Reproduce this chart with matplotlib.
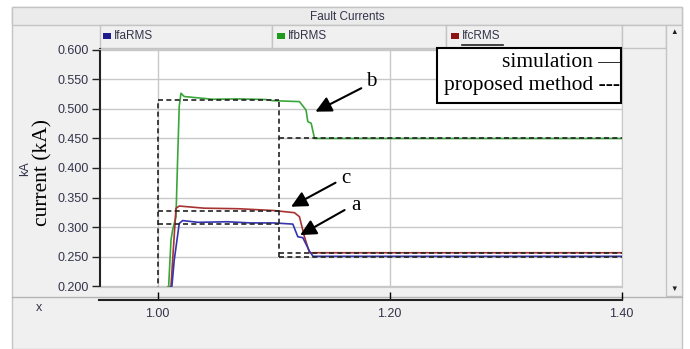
import matplotlib.pyplot as plt
from matplotlib.patches import Rectangle
from matplotlib.lines import Line2D

# --- simulated RMS currents (kA) ---
t_a = [0.95, 1.0124, 1.0144, 1.0187, 1.0216, 1.035, 1.06, 1.08, 1.10, 1.1166,
       1.1209, 1.1252, 1.1310, 1.1340, 1.20, 1.40]
i_a = [0.10, 0.200, 0.244, 0.306, 0.311, 0.308, 0.309, 0.307, 0.307, 0.305,
       0.2836, 0.282, 0.259, 0.2505, 0.2505, 0.2505]

t_b = [0.95, 1.0096, 1.0116, 1.0130, 1.0159, 1.0173, 1.0187, 1.0202, 1.0230,
       1.0475, 1.07, 1.093, 1.0995, 1.1223, 1.1280, 1.1295, 1.1324, 1.1353,
       1.20, 1.40]
i_b = [0.10, 0.200, 0.278, 0.295, 0.3175, 0.4135, 0.504, 0.5266, 0.521,
       0.5164, 0.517, 0.516, 0.514, 0.5124, 0.498, 0.4785, 0.4758, 0.450,
       0.450, 0.450]

t_c = [0.95, 1.0116, 1.0159, 1.0187, 1.04, 1.07, 1.10, 1.1180, 1.1223,
       1.1266, 1.1310, 1.1340, 1.20, 1.40]
i_c = [0.10, 0.200, 0.3317, 0.3356, 0.332, 0.331, 0.328, 0.3243, 0.3175,
       0.2836, 0.2564, 0.2565, 0.2565, 0.2565]

# --- proposed method (fault / post-breaker levels) ---
t_fault = 1.00
t_switch = 1.105
prop_fault = {'a': 0.305, 'b': 0.515, 'c': 0.327}
prop_post = {'a': 0.249, 'b': 0.450, 'c': 0.2555}

y_ticks = [0.200, 0.250, 0.300, 0.350, 0.400, 0.450, 0.500, 0.550, 0.600]
x_ticks = [1.00, 1.20, 1.40]

W, H = 690, 349
def fx(px): return px / W
def fy(py): return 1 - py / H

plt.rcParams['font.family'] = ['Liberation Sans', 'DejaVu Sans']
fig = plt.figure(figsize=(6.9, 3.49), dpi=100)
fig.patch.set_facecolor('white')

grey_bg = '#f0f0f0'
edge = '#c4c4c4'
txt = '#33334a'
serif = 'Liberation Serif'

def box(x0, y0, x1, y1, fc=grey_bg, ec=edge, lw=1, z=-5):
    fig.add_artist(Rectangle((fx(x0), fy(y1)), fx(x1) - fx(x0), fy(y0) - fy(y1),
                             transform=fig.transFigure, facecolor=fc,
                             edgecolor=ec, lw=lw, zorder=z))

# panel background, title bar, legend strip, scrollbar
box(11.5, 7, 682, 349)
box(11.5, 7, 682, 25, fc='#ebebeb')
fig.text(fx(347), fy(16.5), 'Fault Currents', ha='center', va='center',
         fontsize=8.5, color=txt)
for x0, x1 in [(100, 272), (272, 446), (446, 621.7), (621.7, 666)]:
    box(x0, 25, x1, 48)
for x0, name, col in [(103, 'IfaRMS', '#1c1c8c'), (277, 'IfbRMS', '#1e9a1e'),
                      (451, 'IfcRMS', '#8c1414')]:
    box(x0, 33, x0 + 8, 39, fc=col, ec='none', lw=0, z=-4)
    fig.text(fx(x0 + 11), fy(36), name, ha='left', va='center', fontsize=8.5,
             color=txt)
fig.add_artist(Line2D([fx(462), fx(503)], [fy(45), fy(45)],
                      transform=fig.transFigure, color='#222222', lw=1.2))
box(666, 25, 682, 296)
fig.text(fx(674), fy(33), '\u25b2', ha='center', va='center', fontsize=5.5,
         color='#222222')
fig.text(fx(674), fy(289), '\u25bc', ha='center', va='center', fontsize=5.5,
         color='#222222')
fig.add_artist(Line2D([fx(11.5), fx(682)], [fy(296.5), fy(296.5)],
                      transform=fig.transFigure, color='#b4b4b4', lw=1,
                      zorder=-4))

# --- main plot ---
ax = fig.add_axes([fx(99.5), fy(287), fx(621.7) - fx(99.5), fy(49) - fy(287)])
ax.set_facecolor('white')
ax.set_xlim(0.95, 1.40)
ax.set_ylim(0.1985, 0.6015)
ax.set_yticks(y_ticks)
ax.set_yticklabels([f'{v:.3f}' for v in y_ticks])
ax.set_xticks(x_ticks)
ax.tick_params(axis='x', length=0, labelbottom=False)
ax.tick_params(axis='y', direction='out', length=6, width=1, colors='#222222',
               labelsize=9, labelcolor=txt, pad=2)
ax.grid(True, color='#c8c8c8', lw=1)
ax.set_axisbelow(True)
for s in ['top', 'right', 'bottom']:
    ax.spines[s].set_color('#c8c8c8')
ax.spines['left'].set_color('#222222')
ax.spines['left'].set_linewidth(1.5)

dash = dict(color='#222222', lw=1.2, ls=(0, (3, 2)))
ax.plot(t_b, i_b, color='#3aa63a', lw=1.2)
ax.plot(t_c, i_c, color='#a83232', lw=1.2)
ax.plot(t_a, i_a, color='#3434b0', lw=1.2)
for k in ['a', 'b', 'c']:
    ax.plot([t_fault, t_switch], [prop_fault[k], prop_fault[k]], **dash)
    ax.plot([t_switch, 1.40], [prop_post[k], prop_post[k]], **dash)
ax.plot([t_fault, t_fault], [0.0, prop_fault['b']], **dash)
ax.plot([t_switch, t_switch], [prop_post['a'], prop_fault['b']], **dash)

arrow = dict(arrowstyle='-|>', color='black', lw=1.5, mutation_scale=24,
             shrinkA=0, shrinkB=0)
for lab, tip, tail, pos in [('b', (1.1361, 0.4954), (1.1756, 0.5351), (1.1845, 0.5463)),
                            ('c', (1.1151, 0.3344), (1.1534, 0.3751), (1.1626, 0.3825)),
                            ('a', (1.1229, 0.2864), (1.1612, 0.3288), (1.1707, 0.3373))]:
    ax.annotate('', xy=tip, xytext=tail, arrowprops=arrow)
    ax.text(pos[0], pos[1], lab, family=serif, fontsize=15,
            ha='center', va='center')

# hand-drawn style legend box
ax.add_patch(Rectangle((0.6463, 0.7744), 0.9987 - 0.6463, 1.003 - 0.7744,
                       transform=ax.transAxes, facecolor='white',
                       edgecolor='black', lw=1.5, clip_on=False, zorder=5))
ax.text(0.9958, 0.942, 'simulation \u2014', transform=ax.transAxes,
        ha='right', va='center', family=serif, fontsize=15.5, zorder=6)
ax.text(0.9958, 0.848, 'proposed method ---', transform=ax.transAxes,
        ha='right', va='center', family=serif, fontsize=15.5, zorder=6)

# y labels
fig.text(fx(25), fy(169), 'kA', rotation=90, ha='center', va='center',
         fontsize=9, color=txt)
fig.text(fx(43), fy(172), 'current (kA)', rotation=90, ha='center', va='center',
         family=serif, fontsize=15.5)

# --- bottom x axis ---
bx = fig.add_axes([fx(99.5), fy(299.5), fx(621.7) - fx(99.5), 0.001])
bx.set_xlim(0.95, 1.40)
bx.set_xticks(x_ticks)
bx.set_xticklabels([f'{v:.2f}' for v in x_ticks])
bx.set_yticks([])
bx.patch.set_visible(False)
for s in ['top', 'left', 'right']:
    bx.spines[s].set_visible(False)
bx.spines['bottom'].set_linewidth(1.5)
bx.spines['bottom'].set_color('#222222')
bx.tick_params(axis='x', direction='in', length=6, width=1, labelsize=9,
               labelcolor=txt, pad=6)
fig.text(fx(39), fy(308), 'x', ha='center', va='center', fontsize=9, color=txt)

fig.savefig('out.png', dpi=100)
